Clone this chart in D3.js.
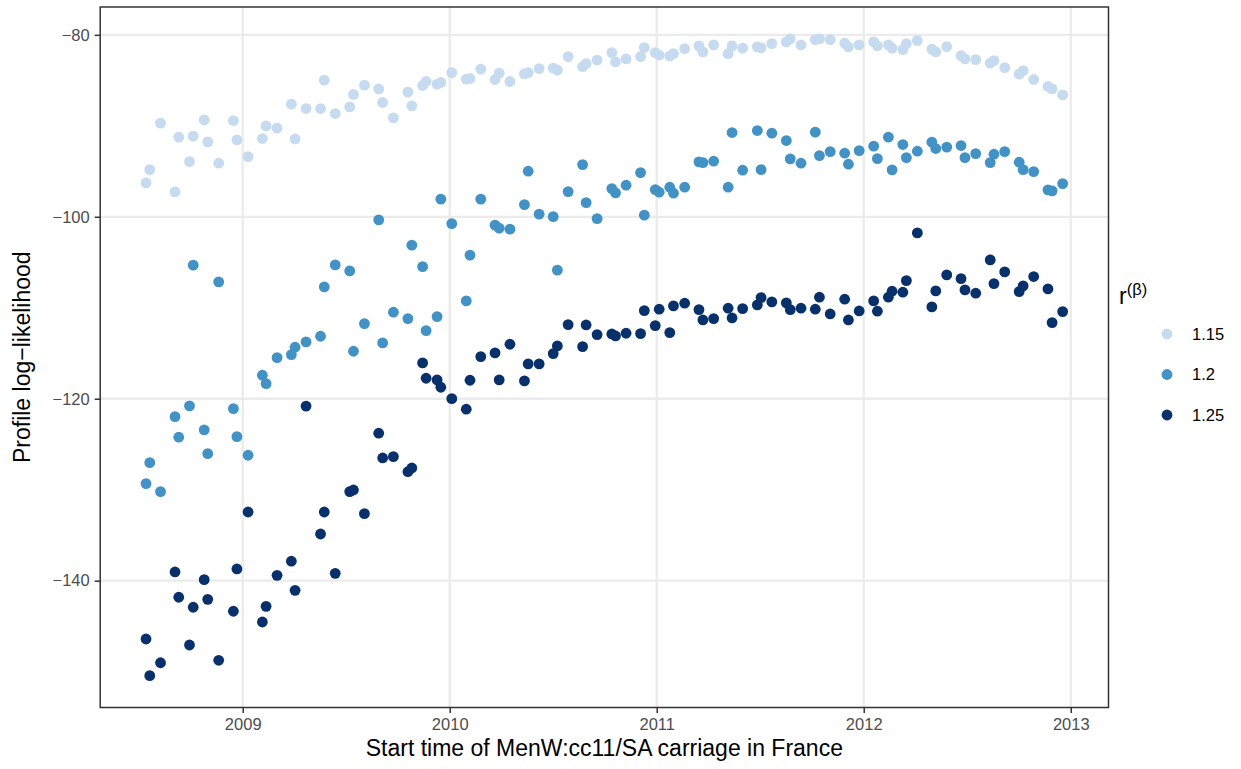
<!DOCTYPE html>
<html>
<head>
<meta charset="utf-8">
<script src="https://cdn.jsdelivr.net/npm/d3@7"></script>
<style>
  body { margin: 0; background: #ffffff; }
  svg { display: block; }
  text { font-family: "Liberation Sans", Arial, Helvetica, sans-serif; }
</style>
</head>
<body>
<svg id="chart" width="1241" height="769"></svg>
<script>
// Start time of carriage (decimal years), shared by all three r(beta) profiles
const startTime = [
  2008.533, 2008.551, 2008.603, 2008.673, 2008.691, 2008.743, 2008.761, 2008.814, 2008.831, 2008.884,
  2008.955, 2008.972, 2009.026, 2009.095, 2009.113, 2009.166, 2009.235, 2009.253, 2009.306, 2009.376,
  2009.394, 2009.447, 2009.517, 2009.535, 2009.588, 2009.657, 2009.676, 2009.728, 2009.798, 2009.817,
  2009.869, 2009.886, 2009.939, 2009.957, 2010.010, 2010.080, 2010.098, 2010.150, 2010.219, 2010.239,
  2010.291, 2010.361, 2010.379, 2010.432, 2010.500, 2010.520, 2010.572, 2010.642, 2010.659, 2010.712,
  2010.783, 2010.801, 2010.852, 2010.922, 2010.940, 2010.993, 2011.012, 2011.063, 2011.081, 2011.135,
  2011.204, 2011.223, 2011.275, 2011.345, 2011.364, 2011.415, 2011.486, 2011.504, 2011.556, 2011.626,
  2011.645, 2011.697, 2011.766, 2011.786, 2011.838, 2011.908, 2011.926, 2011.978, 2012.048, 2012.066,
  2012.119, 2012.137, 2012.189, 2012.206, 2012.259, 2012.329, 2012.348, 2012.401, 2012.470, 2012.489,
  2012.541, 2012.611, 2012.629, 2012.681, 2012.751, 2012.770, 2012.821, 2012.890, 2012.910, 2012.961
];

// Profile log-likelihood for r(beta) = 1.15
const loglikR115 = [
  -96.27, -94.81, -89.71, -97.26, -91.25, -93.93, -91.14, -89.35, -91.76, -94.11,
  -89.42, -91.54, -93.38, -91.40, -90.01, -90.26, -87.62, -91.43, -88.10, -88.10,
  -84.98, -88.65, -87.92, -86.56, -85.53, -85.94, -87.44, -89.13, -86.30, -87.81,
  -85.57, -85.13, -85.42, -85.24, -84.15, -84.87, -84.80, -83.77, -84.91, -84.21,
  -85.13, -84.29, -84.15, -83.71, -83.66, -83.88, -82.39, -83.49, -83.16, -82.78,
  -81.95, -82.97, -82.64, -82.39, -81.40, -81.95, -82.23, -82.31, -82.06, -81.51,
  -81.21, -81.87, -81.10, -82.06, -81.21, -81.46, -81.32, -81.43, -80.96, -80.77,
  -80.44, -81.10, -80.52, -80.44, -80.52, -80.91, -81.32, -81.10, -80.77, -81.21,
  -81.10, -81.46, -81.62, -80.96, -80.63, -81.57, -81.87, -81.29, -82.28, -82.64,
  -82.72, -83.11, -82.83, -83.60, -84.32, -83.93, -84.91, -85.68, -85.94, -86.60
];

// Profile log-likelihood for r(beta) = 1.2
const loglikR12 = [
  -129.33, -127.03, -130.21, -121.97, -124.23, -120.79, -105.32, -123.43, -126.04, -107.16,
  -121.09, -124.17, -126.21, -117.42, -118.34, -115.48, -115.15, -114.34, -113.75, -113.13,
  -107.71, -105.29, -105.95, -114.78, -111.74, -100.34, -113.86, -110.49, -111.19, -103.12,
  -105.48, -112.51, -110.97, -98.06, -100.75, -109.25, -104.22, -98.06, -100.92, -101.25,
  -101.36, -98.66, -94.99, -99.71, -99.98, -105.87, -97.23, -94.26, -98.44, -100.20,
  -96.90, -97.37, -96.53, -95.14, -99.82, -97.01, -97.30, -96.75, -97.41, -96.75,
  -93.96, -94.04, -93.89, -96.75, -90.74, -94.88, -90.52, -94.81, -90.81, -91.62,
  -93.63, -94.11, -90.70, -93.27, -92.83, -93.01, -94.22, -92.72, -92.24, -93.60,
  -91.25, -94.84, -92.06, -93.49, -92.79, -91.80, -92.50, -92.35, -92.17, -93.49,
  -93.05, -94.04, -93.12, -92.83, -94.00, -94.81, -95.03, -97.04, -97.15, -96.35
];

// Profile log-likelihood for r(beta) = 1.25
const loglikR125 = [
  -146.41, -150.44, -149.02, -139.04, -141.82, -147.07, -142.92, -139.89, -142.05, -148.75,
  -143.36, -138.71, -132.45, -144.54, -142.82, -139.41, -137.86, -141.06, -120.81, -134.87,
  -132.45, -139.19, -130.21, -130.03, -132.63, -123.79, -126.51, -126.37, -128.02, -127.61,
  -116.06, -117.75, -117.93, -118.74, -119.99, -121.15, -117.97, -115.37, -114.96, -117.93,
  -114.01, -118.04, -116.17, -116.17, -115.04, -114.19, -111.85, -114.27, -111.89, -112.95,
  -112.88, -113.10, -112.80, -112.84, -110.31, -111.96, -110.16, -112.73, -109.80, -109.50,
  -110.20, -111.34, -111.19, -110.05, -111.12, -110.09, -109.69, -108.88, -109.36, -109.47,
  -110.20, -110.05, -110.16, -108.84, -110.68, -109.06, -111.34, -110.35, -109.25, -110.38,
  -108.84, -108.18, -108.29, -107.01, -101.77, -109.91, -108.15, -106.39, -106.80, -108.04,
  -108.40, -104.74, -107.34, -106.06, -108.22, -107.60, -106.57, -107.93, -111.63, -110.42
];

const rLevels = ["1.15", "1.2", "1.25"];
const levelColors = ["#c6dbef", "#4292c6", "#08306b"];
const xTickValues = [2009, 2010, 2011, 2012, 2013];
const yTickValues = [-140, -120, -100, -80];

const xTitle = "Start time of MenW:cc11/SA carriage in France";
const yTitle = "Profile log\u2212likelihood";

// Tidy rows built from the arrays above
const seriesValues = [loglikR115, loglikR12, loglikR125];
const rows = [];
seriesValues.forEach((vals, s) => {
  vals.forEach((v, i) => rows.push({ t: startTime[i], ll: v, r: rLevels[s] }));
});

const svg = d3.select("#chart");
const panel = { left: 100.2, right: 1108.5, top: 7, bottom: 707.5 };
const titleSize = 23, tickSize = 16.5;

// ggplot-style 5% expansion of the data range
function expanded(ext) {
  const pad = (ext[1] - ext[0]) * 0.05;
  return [ext[0] - pad, ext[1] + pad];
}

const x = d3.scaleLinear()
  .domain(expanded(d3.extent(rows, d => d.t)))
  .range([panel.left, panel.right]);

const y = d3.scaleLinear()
  .domain(expanded(d3.extent(rows, d => d.ll)))
  .range([panel.bottom, panel.top]);

const color = d3.scaleOrdinal().domain(rLevels).range(levelColors);

// Grid
const grid = svg.append("g").attr("class", "grid");
grid.selectAll("line.gx").data(xTickValues).join("line")
  .attr("class", "gx")
  .attr("x1", d => x(d)).attr("x2", d => x(d))
  .attr("y1", panel.top).attr("y2", panel.bottom)
  .attr("stroke", "#ebebeb").attr("stroke-width", 2.3);
grid.selectAll("line.gy").data(yTickValues).join("line")
  .attr("class", "gy")
  .attr("x1", panel.left).attr("x2", panel.right)
  .attr("y1", d => y(d)).attr("y2", d => y(d))
  .attr("stroke", "#ebebeb").attr("stroke-width", 2.3);

// Points
svg.append("g").attr("class", "points")
  .selectAll("circle").data(rows).join("circle")
  .attr("cx", d => x(d.t))
  .attr("cy", d => y(d.ll))
  .attr("r", 5.4)
  .attr("fill", d => color(d.r));

// Panel border
svg.append("rect")
  .attr("x", panel.left).attr("y", panel.top)
  .attr("width", panel.right - panel.left).attr("height", panel.bottom - panel.top)
  .attr("fill", "none").attr("stroke", "#333333").attr("stroke-width", 1.5);

// Axes
const minusFmt = v => String(v).replace("-", "\u2212");

const xAxis = svg.append("g")
  .attr("transform", `translate(0,${panel.bottom})`)
  .call(d3.axisBottom(x).tickValues(xTickValues).tickFormat(d3.format("d")).tickSize(5.5).tickPadding(5));
const yAxis = svg.append("g")
  .attr("transform", `translate(${panel.left},0)`)
  .call(d3.axisLeft(y).tickValues(yTickValues).tickFormat(minusFmt).tickSize(5.5).tickPadding(5));

[xAxis, yAxis].forEach(ax => {
  ax.select(".domain").remove();
  ax.selectAll(".tick line").attr("stroke", "#333333").attr("stroke-width", 1.5);
  ax.selectAll(".tick text")
    .attr("fill", "#4d4d4d")
    .style("font-size", tickSize + "px")
    .style("font-family", "'Liberation Sans', Arial, sans-serif");
});

// Axis titles
svg.append("text")
  .attr("x", (panel.left + panel.right) / 2)
  .attr("y", 756)
  .attr("text-anchor", "middle")
  .attr("fill", "#000000")
  .style("font-size", titleSize + "px")
  .text(xTitle);

svg.append("text")
  .attr("transform", `translate(30,${(panel.top + panel.bottom) / 2}) rotate(-90)`)
  .attr("text-anchor", "middle")
  .attr("fill", "#000000")
  .style("font-size", titleSize + "px")
  .text(yTitle);

// Legend
const legend = svg.append("g").attr("class", "legend");
const legendTitle = legend.append("text")
  .attr("x", 1119)
  .attr("y", 304)
  .attr("fill", "#000000")
  .style("font-size", titleSize + "px");
legendTitle.append("tspan").text("r");
legendTitle.append("tspan")
  .attr("dy", -9)
  .style("font-size", tickSize + "px")
  .text("(\u03b2)");

const keys = legend.selectAll("g.key").data(rLevels).join("g")
  .attr("class", "key")
  .attr("transform", (d, i) => `translate(1167,${334 + i * 40.5})`);
keys.append("circle")
  .attr("r", 5.4)
  .attr("fill", d => color(d));
keys.append("text")
  .attr("x", 25)
  .attr("y", 0)
  .attr("dy", "0.35em")
  .attr("fill", "#000000")
  .style("font-size", tickSize + "px")
  .text(d => d);
</script>
</body>
</html>
